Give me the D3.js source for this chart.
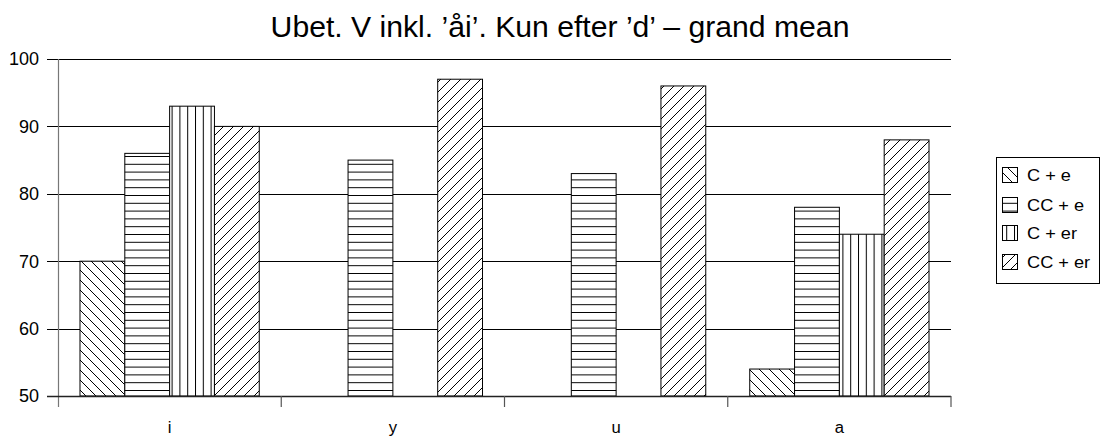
<!DOCTYPE html>
<html>
<head>
<meta charset="utf-8">
<script src="https://cdn.jsdelivr.net/npm/d3@7/dist/d3.min.js"></script>
<style>
  html, body { margin: 0; padding: 0; background: #fff; }
  svg { display: block; font-family: "Liberation Sans", Arial, sans-serif; }
</style>
</head>
<body>
<svg id="chart" width="1102" height="437"></svg>
<script>
// Vowel categories along the x axis
const categories = ["i", "y", "u", "a"];
// Series names (legend order)
const seriesNames = ["C + e", "CC + e", "C + er", "CC + er"];
// Values per series, one per category (null = no bar)
const seriesCe   = [70, null, null, 54];
const seriesCCe  = [86, 85, 83, 78];
const seriesCer  = [93, null, null, 74];
const seriesCCer = [90, 97, 96, 88];
const yTicks = [50, 60, 70, 80, 90, 100];
const titleText = "Ubet. V inkl. \u2019åi\u2019. Kun efter \u2019d\u2019 \u2013 grand mean";

const seriesValues = [seriesCe, seriesCCe, seriesCer, seriesCCer];
const patternIds = ["hatchBack", "hatchHoriz", "hatchVert", "hatchFwd"];

const svg = d3.select("#chart");
const plot = { left: 58, right: 951, top: 59, bottom: 396 };

// Text helper: slightly widened glyphs
function stretched(sel, x, y, sx) {
  return sel.attr("transform", `translate(${x},${y}) scale(${sx},1)`);
}

// Hatch patterns
const defs = svg.append("defs");
function pattern(id, w, h, draw) {
  const p = defs.append("pattern")
    .attr("id", id)
    .attr("patternUnits", "userSpaceOnUse")
    .attr("width", w).attr("height", h);
  p.append("rect").attr("width", w).attr("height", h).attr("fill", "#fff");
  draw(p);
}
const ds = 10;
pattern("hatchBack", ds, ds, p => {
  p.append("path").attr("d", `M0,0 L${ds},${ds} M${-ds},0 L0,${ds} M${ds},${-ds} L${2*ds},${ds}`)
    .attr("stroke", "#000").attr("stroke-width", 1);
});
pattern("hatchFwd", ds, ds, p => {
  p.append("path").attr("d", `M0,${ds} L${ds},0 M${-ds},${ds} L0,0 M${ds},${2*ds} L${2*ds},0`)
    .attr("stroke", "#000").attr("stroke-width", 1);
});
pattern("hatchHoriz", 8, 7.8, p => {
  p.append("line").attr("x1", 0).attr("x2", 8).attr("y1", 0.5).attr("y2", 0.5)
    .attr("stroke", "#000").attr("stroke-width", 1);
});
pattern("hatchVert", 7.8, 8, p => {
  p.append("line").attr("y1", 0).attr("y2", 8).attr("x1", 0.5).attr("x2", 0.5)
    .attr("stroke", "#000").attr("stroke-width", 1);
});

// Scales
const x0 = d3.scaleBand().domain(categories).range([plot.left, plot.right]).padding(0);
const groupPad = x0.bandwidth() * 0.0985;
const x1 = d3.scaleBand().domain(d3.range(seriesNames.length))
  .range([groupPad, x0.bandwidth() - groupPad]).padding(0);
const y = d3.scaleLinear().domain([50, 100]).range([plot.bottom, plot.top]);

// Gridlines with left tick stubs
svg.append("g").selectAll("line").data(yTicks.filter(t => t > 50)).join("line")
  .attr("x1", plot.left - 11).attr("x2", plot.right)
  .attr("y1", d => Math.round(y(d)) + 0.5).attr("y2", d => Math.round(y(d)) + 0.5)
  .attr("stroke", "#000").attr("stroke-width", 1);

// Y tick labels
svg.append("g").selectAll("text").data(yTicks).join("text")
  .each(function(d) { stretched(d3.select(this), 39, y(d), 1.03); })
  .attr("dy", "0.36em")
  .attr("text-anchor", "end")
  .attr("font-size", 17.5)
  .attr("fill", "#000")
  .text(d => d);

// Bars
const bars = svg.append("g");
seriesValues.forEach((vals, si) => {
  bars.append("g").selectAll("rect")
    .data(categories.map((c, ci) => ({ c, v: vals[ci] })).filter(d => d.v != null))
    .join("rect")
    .attr("x", d => x0(d.c) + x1(si))
    .attr("y", d => y(d.v))
    .attr("width", x1.bandwidth())
    .attr("height", d => y(50) - y(d.v))
    .attr("fill", `url(#${patternIds[si]})`)
    .attr("stroke", "#000")
    .attr("stroke-width", 1);
});

// Vertical axis line
svg.append("line")
  .attr("x1", plot.left + 0.5).attr("x2", plot.left + 0.5)
  .attr("y1", plot.top).attr("y2", plot.bottom + 11)
  .attr("stroke", "#777").attr("stroke-width", 1.2);

// Bottom axis line and category ticks
svg.append("line")
  .attr("x1", plot.left - 11).attr("x2", plot.right)
  .attr("y1", plot.bottom + 0.5).attr("y2", plot.bottom + 0.5)
  .attr("stroke", "#222").attr("stroke-width", 1.6);
svg.append("g").selectAll("line").data(categories.slice(1).map(c => x0(c)).concat([plot.right])).join("line")
  .attr("x1", d => d).attr("x2", d => d)
  .attr("y1", plot.bottom).attr("y2", plot.bottom + 11)
  .attr("stroke", "#555").attr("stroke-width", 1.2);

// Category labels
svg.append("g").selectAll("text").data(categories).join("text")
  .each(function(d) { stretched(d3.select(this), x0(d) + x0.bandwidth() / 2, 433, 1.04); })
  .attr("text-anchor", "middle")
  .attr("font-size", 16)
  .text(d => d);

// Title
svg.append("text")
  .call(s => stretched(s, 560, 37, 1.04))
  .attr("text-anchor", "middle")
  .attr("font-size", 29)
  .text(titleText);

// Legend
const legend = svg.append("g");
legend.append("rect")
  .attr("x", 996.5).attr("y", 157.5).attr("width", 103).attr("height", 126)
  .attr("fill", "#fff").attr("stroke", "#000").attr("stroke-width", 1);
const rowY = [175, 205, 233, 262];
seriesNames.forEach((name, i) => {
  legend.append("rect")
    .attr("x", 1002.5).attr("y", rowY[i] - 7.5).attr("width", 15).attr("height", 15)
    .attr("fill", `url(#${patternIds[i]})`)
    .attr("stroke", "#000").attr("stroke-width", 1);
  legend.append("text")
    .call(s => stretched(s, 1027, rowY[i], 1.07))
    .attr("dy", "0.36em")
    .attr("font-size", 17)
    .text(name);
});
</script>
</body>
</html>
